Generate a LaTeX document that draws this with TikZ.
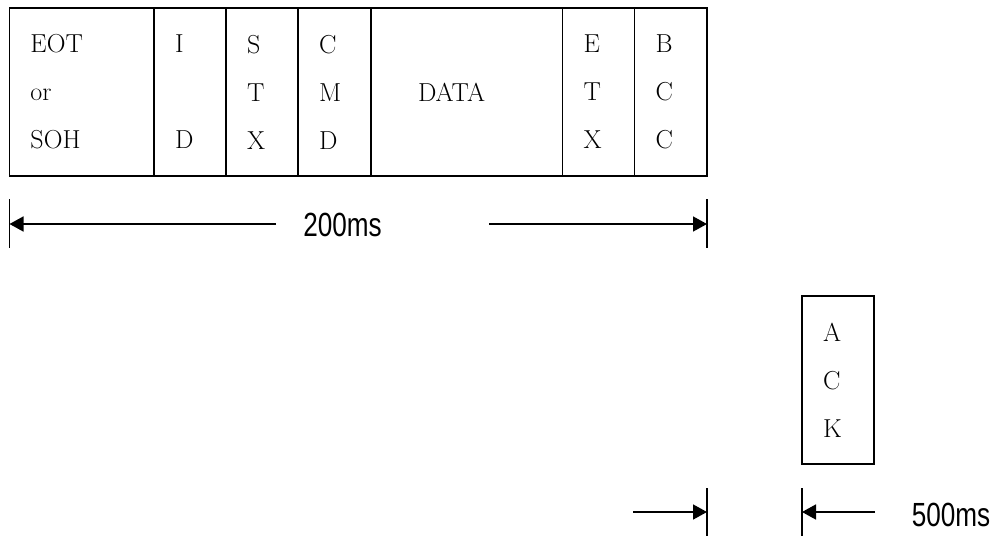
\documentclass[tikz,border=0pt]{standalone}
\usepackage{fontspec}
\newfontfamily\gulimlike{Liberation Sans}
\usetikzlibrary{positioning}
\usetikzlibrary{arrows.meta}

\tikzset{
  field/.style={draw, line width=1.6pt, outer sep=0pt, minimum height=168pt, inner xsep=21pt, inner ysep=0pt, align=left, font=\fontsize{26}{48}\selectfont},
  dim/.style={line width=1.6pt, -{Triangle[length=14pt,width=15pt]}},
  tick/.style={line width=1.6pt},
  ms/.style={font=\gulimlike\fontsize{33.5}{40}\selectfont, inner sep=0pt}
}

\begin{document}
\begin{tikzpicture}[x=1pt,y=-1pt]
  \useasboundingbox (0,0) rectangle (997,536);
  % frame fields
  \node[field, text width=102.5pt, anchor=north west] (eot) at (9.5,8) {EOT\\or\\SOH};
  \node[field, text width=30pt, right=0pt of eot] (id) {I\\\phantom{I}\\D};
  \node[field, text width=30pt, right=0pt of id] (stx) {S\\T\\X};
  \node[field, text width=31pt, right=0pt of stx] (cmd) {C\\M\\D};
  \node[field, text width=97.5pt, inner xsep=47pt, right=0pt of cmd] (data) {DATA};
  \node[field, text width=30pt, right=0pt of data] (etx) {E\\T\\X};
  \node[field, text width=30.5pt, right=0pt of etx] (bcc) {B\\C\\C};
  \node[field, text width=30pt, anchor=north west] (ack) at (802,296) {A\\C\\K};
  % 200ms
  \node[ms] (t200) at (342.5,225) {\scalebox{0.78}[1]{200ms}};
  \coordinate (l200) at (276,224);
  \coordinate (r200) at (489,224);
  \draw[tick] ([yshift=-23pt]eot.south west) -- ++(0,49);
  \draw[tick] ([yshift=-23pt]bcc.south east) -- ++(0,49);
  \draw[dim] (l200) -- (l200 -| eot.west);
  \draw[dim] (r200) -- (r200 -| bcc.east);
  % 500ms
  \node[ms] (t500) at (951,515) {\scalebox{0.78}[1]{500ms}};
  \coordinate (l500) at (633,512);
  \coordinate (r500) at (875,512);
  \draw[tick] ([yshift=-312pt]bcc.south east) -- ++(0,48);
  \draw[tick] ([yshift=-24pt]ack.south west) -- ++(0,48);
  \draw[dim] (l500) -- (l500 -| bcc.east);
  \draw[dim] (r500) -- (r500 -| ack.west);
\end{tikzpicture}
\end{document}
